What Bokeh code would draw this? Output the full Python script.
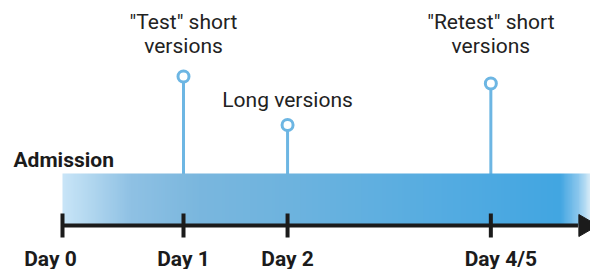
import numpy as np
from bokeh.plotting import figure
from bokeh.models import Range1d, ColumnDataSource
from bokeh.core.properties import value
from bokeh.embed import file_html
from bokeh.resources import INLINE

# ---- data ----
tick_labels = ["Day 0", "Day 1", "Day 2", "Day 4/5"]
tick_pos = [0.0, 1.0, 1.86, 3.54]          # position on the timeline
tick_label_shift = [-12, 0, 0, 10]          # label nudges (px)

event_labels = ['"Test" short\nversions', "Long versions", '"Retest" short\nversions']
event_pos = [1.0, 1.86, 3.54]
event_height = [149, 100.5, 142]
event_label_y = [192, 126, 192]

band_label = "Admission"
band_height = 52
timeline_end = 4.37

# gradient stops for the band (fraction along band, hex colour)
grad_stops = [0.0, 0.05, 0.13, 0.26, 0.45, 0.68, 0.94, 0.975, 1.0]
grad_cols = ["#c9e5f8", "#b3d8f0", "#8fc1e4", "#7ab7de", "#6cb3df",
             "#58ade1", "#42a6e2", "#8cc8ee", "#e0f0fa"]

FONT = value("Roboto")
STEM = "#6db6e3"
INK = "#1b1b1b"

p = figure(width=590, height=269, output_backend="svg", toolbar_location=None,
           x_range=Range1d(-62 / 121, 528 / 121), y_range=Range1d(-44, 225),
           min_border=0, outline_line_color=None)
p.axis.visible = False
p.grid.visible = False
p.background_fill_color = "white"
p.border_fill_color = "white"

# stems + circles
p.segment(x0=event_pos, y0=[0] * 3, x1=event_pos, y1=[h - 5 for h in event_height],
          line_color=STEM, line_width=3)
p.scatter(x=event_pos, y=event_height, size=11, fill_color="white",
          line_color=STEM, line_width=3)

# gradient band
def hex2rgb(h):
    h = h.lstrip("#")
    return [int(h[i:i + 2], 16) for i in (0, 2, 4)]

N = 600
f = np.linspace(0, 1, N)
rgb = np.array([hex2rgb(c) for c in grad_cols], dtype=float)
r = np.interp(f, grad_stops, rgb[:, 0]).astype(np.uint32)
g = np.interp(f, grad_stops, rgb[:, 1]).astype(np.uint32)
b = np.interp(f, grad_stops, rgb[:, 2]).astype(np.uint32)
img = (255 << 24) | (b << 16) | (g << 8) | r
img = img.reshape(1, N).astype(np.uint32)
p.image_rgba(image=[img], x=0, y=0, dw=timeline_end, dh=band_height)

# axis line + ticks + arrow
p.segment(x0=[0], y0=[0], x1=[4.26], y1=[0], line_color=INK, line_width=4)
p.segment(x0=tick_pos, y0=[-12] * 4, x1=tick_pos, y1=[12] * 4, line_color=INK, line_width=4)
p.scatter(x=[4.32], y=[0], marker="triangle", angle=-np.pi / 2, size=22,
          fill_color=INK, line_color=INK)

# tick labels
src = ColumnDataSource(dict(x=tick_pos, t=tick_labels, dx=tick_label_shift))
p.text(x="x", y=-33, text="t", x_offset="dx", source=src, text_font=FONT,
       text_font_size="21px", text_font_style="bold", text_color=INK,
       text_align="center", text_baseline="alphabetic")

# event labels
p.text(x=event_pos, y=event_label_y, text=event_labels, text_font=FONT,
       text_font_size="21px", text_color="#222222", text_align="center",
       text_baseline="alphabetic", text_line_height=1.0)

# band label
p.text(x=[-0.405], y=[66], text=[band_label], text_font=FONT, text_font_size="21px",
       text_font_style="bold", text_color=INK, text_align="left",
       text_baseline="alphabetic")

open("out.html", "w").write(file_html(p, INLINE))
